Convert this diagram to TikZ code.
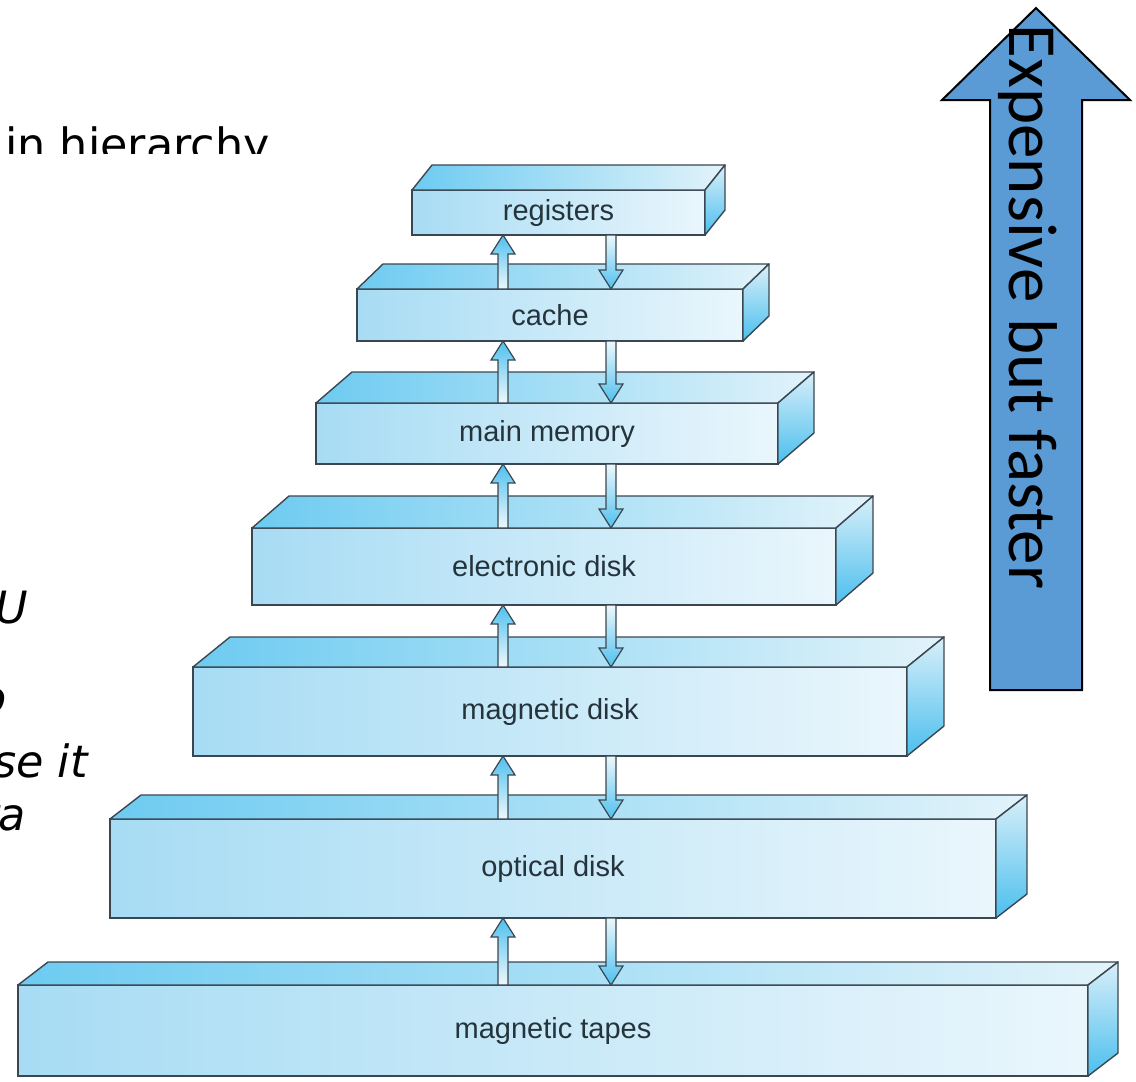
\documentclass[tikz,border=0pt]{standalone}
\usepackage{fontspec}
\setmainfont{Liberation Sans}
\newfontfamily\slidefont{DejaVu Sans}[ItalicFont={DejaVu Sans Oblique}]
\newfontfamily\arrowfont{Carlito}
\usetikzlibrary{calc}

\definecolor{edge}{HTML}{3B4750}
\definecolor{frontL}{HTML}{A7DCF4}
\definecolor{frontR}{HTML}{EAF6FC}
\definecolor{topL}{HTML}{6DCBF1}
\definecolor{topR}{HTML}{E2F3FA}
\definecolor{sideT}{HTML}{D8EFF9}
\definecolor{sideB}{HTML}{4CBFEE}
\definecolor{labelc}{HTML}{25343C}
\definecolor{arrC}{HTML}{4EC0EE}
\definecolor{arrL}{HTML}{EEF8FC}
\definecolor{costblue}{HTML}{5B9BD5}

\tikzset{
  front/.style={draw=edge,line width=1.4pt,left color=frontL,right color=frontR,
    inner sep=0pt,outer sep=0pt,text=labelc,font=\fontsize{29}{29}\selectfont},
  topface/.style={draw=edge,line width=1.4pt,left color=topL,right color=topR,line join=round},
  sideface/.style={draw=edge,line width=1.4pt,top color=sideT,bottom color=sideB,line join=round},
  uparr/.style={draw=edge,line width=1.2pt,top color=arrC,bottom color=arrL},
  downarr/.style={draw=edge,line width=1.2pt,top color=arrL,bottom color=arrC},
  bigarrow/.style={draw=black,line width=2pt,fill=costblue,line join=miter},
  slidetext/.style={inner sep=0pt,font=\slidefont\fontsize{44.5}{46}\selectfont},
}

% one level of the hierarchy: name, cx, cy, width, height, depth x, depth y, label
\newcommand{\slab}[8]{%
  \node[front,minimum width=#4pt,minimum height=#5pt] (#1) at (#2,#3) {#8};
  \draw[topface] (#1.north west) -- ++(#6,-#7) -- ($(#1.north east)+(#6,-#7)$) -- (#1.north east) -- cycle;
  \draw[sideface] (#1.north east) -- ++(#6,-#7) -- ($(#1.south east)+(#6,-#7)$) -- (#1.south east) -- cycle;
}
% fat arrow: style, tail, tip
\newcommand{\fatarrow}[3]{%
  \path ($(#3)!19pt!(#2)$) coordinate (hb);
  \draw[#1] ($(#2)+(-5,0)$) -- ($(hb)+(-5,0)$) -- ($(hb)+(-12,0)$) -- (#3)
    -- ($(hb)+(12,0)$) -- ($(hb)+(5,0)$) -- ($(#2)+(5,0)$) -- cycle;
}

\begin{document}
\begin{tikzpicture}[x=1pt,y=-1pt]
\useasboundingbox (0,0) rectangle (1136,1082);

% slide text behind the figure
\begin{scope}
\clip (0,0) rectangle (1136,153);
\node[slidetext,anchor=base west] (hier) at (5,160) {in hierarchy};
\end{scope}
\node[slidetext,anchor=base east] (frag1) at (28,623) {\itshape U};
\node[slidetext,anchor=base east] (frag2) at (7,713) {\itshape o};
\node[slidetext,anchor=base east] (frag3) at (88,777) {\itshape se it};
\node[slidetext,anchor=base east] (frag4) at (26,830) {\itshape ra};

% the levels
\slab{reg}{558.5}{212.5}{293}{45}{20}{25}{registers}
\slab{cache}{550}{315}{386}{52}{26}{25}{cache}
\slab{mainmem}{547}{433.5}{462}{61}{36}{31}{main memory}
\slab{edisk}{544}{566.5}{584}{77}{37}{32}{electronic disk}
\slab{mdisk}{550}{711.5}{714}{89}{37}{30}{magnetic disk}
\slab{odisk}{553}{868.5}{886}{99}{31}{24}{optical disk}
\slab{tapes}{553}{1030.5}{1070}{91}{30}{23}{magnetic tapes}

% transfers between levels
\coordinate (upx) at (503,0);
\coordinate (dnx) at (611,0);
\foreach \hi/\lo in {reg/cache,cache/mainmem,mainmem/edisk,edisk/mdisk,mdisk/odisk,odisk/tapes}{
  \fatarrow{uparr}{\lo.north -| upx}{\hi.south -| upx}
  \fatarrow{downarr}{\hi.south -| dnx}{\lo.north -| dnx}
}

% cost arrow
\draw[bigarrow] (1036,8) -- (1130,100) -- (1082,100) -- (1082,690) -- (990,690)
  -- (990,100) -- (942,100) -- cycle;
\node[rotate=-90,anchor=base,inner sep=0pt,font=\arrowfont\fontsize{69}{69}\selectfont]
  (speed) at (1009,307) {Expensive but faster};
\end{tikzpicture}
\end{document}
